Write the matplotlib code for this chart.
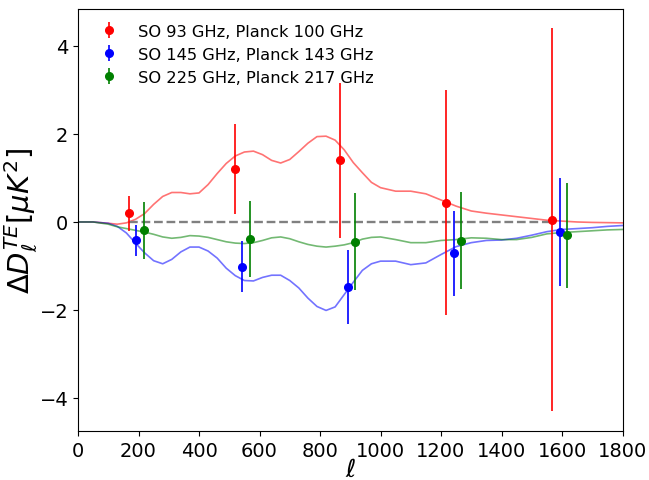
import matplotlib
matplotlib.use("Agg")
import matplotlib.pyplot as plt
import numpy as np

# ---- data points (bandpowers) ----
labels = ["SO 93 GHz, Planck 100 GHz", "SO 145 GHz, Planck 143 GHz", "SO 225 GHz, Planck 217 GHz"]
colors = ["red", "blue", "green"]

ell_red = [168, 518, 867, 1217, 1567]
dl_red = [0.20, 1.20, 1.40, 0.44, 0.05]
err_red = [0.40, 1.02, 1.76, 2.55, 4.35]

ell_blue = [193, 543, 892, 1242, 1592]
dl_blue = [-0.42, -1.02, -1.48, -0.71, -0.23]
err_blue = [0.35, 0.58, 0.84, 0.97, 1.22]

ell_green = [218, 568, 917, 1267, 1617]
dl_green = [-0.19, -0.39, -0.45, -0.43, -0.30]
err_green = [0.65, 0.87, 1.10, 1.10, 1.19]

# ---- theory curves ----
ell_curve = [0, 50, 100, 130, 160, 190, 220, 250, 280, 310, 340, 370, 400, 430, 460,
             490, 520, 550, 580, 610, 640, 670, 700, 730, 760, 790, 820, 850, 880, 910,
             940, 970, 1000, 1050, 1100, 1150, 1200, 1250, 1300, 1350, 1400, 1450, 1500,
             1550, 1600, 1650, 1700, 1750, 1800]
curve_red = [0, 0, -0.03, -0.05, -0.02, 0.06, 0.19, 0.40, 0.58, 0.67, 0.67, 0.64, 0.66,
             0.85, 1.10, 1.33, 1.50, 1.59, 1.61, 1.53, 1.40, 1.34, 1.42, 1.60, 1.79, 1.94,
             1.95, 1.86, 1.64, 1.35, 1.12, 0.90, 0.78, 0.70, 0.70, 0.64, 0.50, 0.36, 0.25,
             0.20, 0.16, 0.12, 0.08, 0.04, 0.02, 0.00, -0.01, -0.015, -0.02]
curve_blue = [0, 0, -0.03, -0.10, -0.25, -0.48, -0.70, -0.88, -0.95, -0.85, -0.68, -0.57,
              -0.57, -0.66, -0.82, -1.05, -1.22, -1.33, -1.34, -1.26, -1.21, -1.21, -1.33,
              -1.50, -1.73, -1.92, -2.01, -1.93, -1.65, -1.37, -1.10, -0.95, -0.89, -0.89,
              -0.97, -0.93, -0.74, -0.56, -0.47, -0.42, -0.41, -0.37, -0.30, -0.22, -0.17,
              -0.15, -0.13, -0.10, -0.08]
curve_green = [0, 0, -0.05, -0.11, -0.15, -0.19, -0.23, -0.28, -0.34, -0.37, -0.35, -0.31,
               -0.32, -0.35, -0.40, -0.45, -0.48, -0.49, -0.47, -0.42, -0.36, -0.34, -0.38,
               -0.45, -0.51, -0.55, -0.57, -0.55, -0.52, -0.47, -0.39, -0.35, -0.34, -0.40,
               -0.47, -0.47, -0.42, -0.40, -0.36, -0.37, -0.40, -0.40, -0.35, -0.27, -0.24,
               -0.22, -0.20, -0.18, -0.17]

xticks = [0, 200, 400, 600, 800, 1000, 1200, 1400, 1600, 1800]
yticks = [-4, -2, 0, 2, 4]

fig = plt.figure(figsize=(6.49, 4.81), dpi=100)
ax = fig.add_axes([78 / 649, 1 - 432 / 481, (622.5 - 78) / 649, (432 - 10) / 481])

for cv, col in zip([curve_red, curve_blue, curve_green], colors):
    ax.plot(ell_curve, cv, color=col, alpha=0.55, lw=1.2, solid_joinstyle="round")

ax.hlines(0, ell_red[0], ell_red[-1], colors="gray", linestyles="--", lw=1.7)

for e, d, s, col, lab in zip([ell_red, ell_blue, ell_green], [dl_red, dl_blue, dl_green],
                              [err_red, err_blue, err_green], colors, labels):
    ax.errorbar(e, d, yerr=s, fmt="o", color=col, markersize=5.5, elinewidth=1.2,
                label=lab)

ax.set_xlim(0, 1800)
ax.set_ylim(-4.75, 4.84)
ax.set_xticks(xticks)
ax.set_yticks(yticks)
ax.tick_params(axis="both", labelsize=14)
ax.set_xlabel(r"$\ell$", fontsize=18, labelpad=-2)
ax.set_ylabel(r"$\Delta D_\ell^{TE} [\mu K^2]$", fontsize=21, labelpad=0)
ax.legend(loc="upper left", frameon=False, fontsize=11.7)

fig.savefig("out.png", dpi=100)
